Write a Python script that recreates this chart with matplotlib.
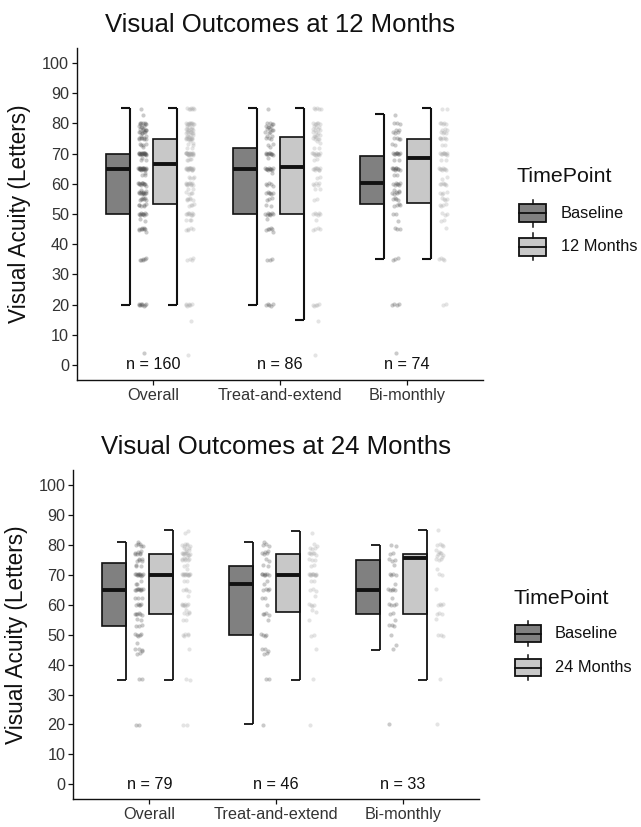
import numpy as np
import matplotlib
matplotlib.use("Agg")
import matplotlib.pyplot as plt
from matplotlib.patches import Rectangle
from matplotlib.lines import Line2D

plt.rcParams['font.family'] = ['Liberation Sans', 'DejaVu Sans']

# ---------------- data ----------------
categories = ["Overall", "Treat-and-extend", "Bi-monthly"]
titles = ["Visual Outcomes at 12 Months", "Visual Outcomes at 24 Months"]
legend_labels_12 = ["Baseline", "12 Months"]
legend_labels_24 = ["Baseline", "24 Months"]
n_12 = [160, 86, 74]
n_24 = [79, 46, 33]
y_ticks = [0, 10, 20, 30, 40, 50, 60, 70, 80, 90, 100]

# box statistics, one entry per category (Overall, Treat-and-extend, Bi-monthly)
base12_lo = [20, 20, 35]
base12_q1 = [50, 50, 53.3]
base12_med = [65, 65, 60.2]
base12_q3 = [70, 71.8, 69.3]
base12_hi = [85, 85, 83]

m12_lo = [20, 15, 35]
m12_q1 = [53.3, 50, 53.6]
m12_med = [66.6, 65.6, 68.5]
m12_q3 = [74.9, 75.6, 74.9]
m12_hi = [85, 85, 85]

base24_lo = [35, 20, 45]
base24_q1 = [53, 50, 57]
base24_med = [65, 67, 65]
base24_q3 = [74, 73, 75]
base24_hi = [81, 81, 80]

m24_lo = [35, 35, 35]
m24_q1 = [57, 57.5, 57]
m24_med = [70, 70, 75.5]
m24_q3 = [77, 77, 77]
m24_hi = [85, 84.5, 85]

# individual observations (value, count)
te_base12_vals = [85, 80, 79, 78, 77, 76, 75, 73, 72, 70, 69, 65, 64, 60, 59, 57, 55, 53, 50, 48, 45, 44, 35, 20]
te_base12_cnts = [1, 4, 4, 4, 3, 2, 3, 2, 1, 10, 1, 11, 1, 4, 1, 6, 3, 2, 8, 1, 5, 1, 3, 5]
te_m12_vals = [85, 80, 79, 78, 77, 76, 75, 74, 72, 70, 68, 65, 62, 60, 58, 55, 50, 48, 45, 20, 15, 3]
te_m12_cnts = [5, 6, 3, 4, 3, 4, 5, 2, 2, 10, 2, 10, 2, 5, 2, 2, 6, 1, 4, 5, 1, 1]
bi_base12_vals = [83, 80, 78, 77, 75, 73, 70, 68, 65, 63, 60, 58, 57, 55, 53, 50, 48, 45, 35, 20, 4]
bi_base12_cnts = [1, 3, 2, 3, 4, 2, 9, 2, 10, 2, 7, 2, 5, 4, 4, 2, 1, 3, 3, 4, 1]
bi_m12_vals = [85, 80, 78, 77, 75, 73, 70, 68, 65, 62, 60, 57, 55, 53, 50, 48, 45, 35, 20]
bi_m12_cnts = [2, 5, 3, 4, 6, 2, 10, 2, 8, 2, 6, 4, 4, 4, 3, 2, 1, 4, 2]

te_base24_vals = [81, 80, 78, 77, 75, 73, 70, 68, 67, 65, 62, 60, 57, 55, 50, 45, 44, 35, 20]
te_base24_cnts = [1, 3, 2, 3, 2, 2, 7, 1, 1, 4, 2, 1, 4, 1, 4, 3, 2, 2, 1]
te_m24_vals = [84, 80, 79, 77, 75, 73, 70, 68, 65, 63, 60, 58, 55, 50, 45, 35, 20]
te_m24_cnts = [1, 2, 3, 6, 3, 2, 11, 2, 3, 1, 4, 2, 1, 2, 1, 1, 1]
bi_base24_vals = [80, 77, 75, 73, 70, 67, 65, 62, 60, 57, 55, 53, 50, 47, 45, 20]
bi_base24_cnts = [2, 2, 3, 1, 4, 1, 5, 1, 4, 2, 1, 3, 1, 1, 1, 1]
bi_m24_vals = [85, 80, 78, 77, 76, 75, 72, 70, 65, 60, 57, 55, 50, 35, 20]
bi_m24_cnts = [1, 4, 2, 4, 2, 3, 1, 2, 1, 4, 3, 1, 3, 1, 1]

# ---------------- styling ----------------
BASE_FILL = "#808080"
FU_FILL = "#c8c8c8"
BASE_PT = "#505050"
FU_PT = "#a8a8a8"
EDGE = "#111111"
TXT = "#333333"
W = 641
H = 827

fig = plt.figure(figsize=(6.41, 8.27), dpi=100)


def expand(vals, cnts):
    return np.repeat(np.array(vals, dtype=float), cnts)


def jitter(n, amp, k):
    i = np.arange(n)
    return ((i * k + 0.37) % 1.0 - 0.5) * 2 * amp


def draw_panel(ax, title, groups, n_labels):
    xpos = np.arange(1, len(categories) + 1)
    bw = 0.188
    for g, (lo, q1, med, q3, hi, data, fill, ptc, dodge, wlw) in enumerate(groups):
        right = xpos + dodge
        ax.bar(right, np.array(q3) - np.array(q1), bottom=q1, width=-bw, align='edge',
               color=fill, edgecolor=EDGE, linewidth=1.2, zorder=2)
        ax.hlines(med, right - bw, right, color=EDGE, linewidth=2.8, zorder=3)
        ax.vlines(right, lo, hi, color=EDGE, linewidth=wlw, zorder=3)
        ax.hlines(lo, right - 0.07, right, color=EDGE, linewidth=wlw, zorder=3)
        ax.hlines(hi, right - 0.07, right, color=EDGE, linewidth=wlw, zorder=3)
        for ci, vals in enumerate(data):
            n = len(vals)
            xs = right[ci] + 0.10 + jitter(n, 0.032, 0.6180339887)
            ys = vals + jitter(n, 0.35, 0.7548776662)
            ax.scatter(xs, ys, s=9, color=ptc, alpha=0.3, linewidths=0, zorder=4)
    for ci, nl in enumerate(n_labels):
        ax.text(xpos[ci], 0, f"n = {nl}", ha='center', va='center', fontsize=11.7, color="#111111")
    ax.set_xlim(0.4, 3.6)
    ax.set_ylim(-5, 105)
    ax.set_yticks(y_ticks)
    ax.set_xticks(xpos)
    ax.set_xticklabels(categories)
    ax.tick_params(axis='both', labelsize=11.7, labelcolor=TXT, color=EDGE, length=3.5, width=0.9, pad=2.2)
    for s in ['top', 'right']:
        ax.spines[s].set_visible(False)
    for s in ['left', 'bottom']:
        ax.spines[s].set_linewidth(1.0)
        ax.spines[s].set_color(EDGE)
    ax.set_ylabel("Visual Acuity (Letters)", fontsize=16.3, color="#111111")
    ax.set_title(title, fontsize=18.5, pad=11.3, color="#111111")


def draw_legend(title_xy, key_x0, key_x1, centers, key_h, label_x, labels):
    def fx(x):
        return x / W

    def fy(y):
        return 1 - y / H

    fig.text(fx(title_xy[0]), fy(title_xy[1]), "TimePoint", fontsize=15.4, ha='left', va='center', color="#111111")
    for c, fill, lab in zip(centers, [BASE_FILL, FU_FILL], labels):
        fig.add_artist(Rectangle((fx(key_x0), fy(c + key_h / 2)), fx(key_x1) - fx(key_x0), key_h / H,
                                 transform=fig.transFigure, facecolor=fill, edgecolor=EDGE, linewidth=1.3))
        fig.add_artist(Line2D([fx(key_x0), fx(key_x1)], [fy(c), fy(c)], transform=fig.transFigure,
                              color=EDGE, linewidth=1.3))
        xm = fx((key_x0 + key_x1) / 2)
        fig.add_artist(Line2D([xm, xm], [fy(c - key_h / 2), fy(c - key_h / 2 - 4.5)], transform=fig.transFigure,
                              color=EDGE, linewidth=1.1))
        fig.add_artist(Line2D([xm, xm], [fy(c + key_h / 2), fy(c + key_h / 2 + 4.5)], transform=fig.transFigure,
                              color=EDGE, linewidth=1.1))
        fig.text(fx(label_x), fy(c), lab, fontsize=11.8, ha='left', va='center', color="#111111")


# top panel
ax1 = fig.add_axes([77 / W, 1 - 380 / H, (483 - 77) / W, (380 - 48) / H])
te_b12 = expand(te_base12_vals, te_base12_cnts)
bi_b12 = expand(bi_base12_vals, bi_base12_cnts)
te_f12 = expand(te_m12_vals, te_m12_cnts)
bi_f12 = expand(bi_m12_vals, bi_m12_cnts)
draw_panel(ax1, titles[0], [
    (base12_lo, base12_q1, base12_med, base12_q3, base12_hi,
     [np.concatenate([te_b12, bi_b12]), te_b12, bi_b12], BASE_FILL, BASE_PT, 0.0 - 0.188 + 0.004, 1.5),
    (m12_lo, m12_q1, m12_med, m12_q3, m12_hi,
     [np.concatenate([te_f12, bi_f12]), te_f12, bi_f12], FU_FILL, FU_PT, 0.188, 1.5),
], n_12)
ax1.yaxis.set_label_coords(-0.113, 0.5)

# bottom panel
ax2 = fig.add_axes([73.3 / W, 1 - 799.3 / H, (479 - 73.3) / W, (799.3 - 470) / H])
te_b24 = expand(te_base24_vals, te_base24_cnts)
bi_b24 = expand(bi_base24_vals, bi_base24_cnts)
te_f24 = expand(te_m24_vals, te_m24_cnts)
bi_f24 = expand(bi_m24_vals, bi_m24_cnts)
draw_panel(ax2, titles[1], [
    (base24_lo, base24_q1, base24_med, base24_q3, base24_hi,
     [np.concatenate([te_b24, bi_b24]), te_b24, bi_b24], BASE_FILL, BASE_PT, 0.0 - 0.188 + 0.004, 1.3),
    (m24_lo, m24_q1, m24_med, m24_q3, m24_hi,
     [np.concatenate([te_f24, bi_f24]), te_f24, bi_f24], FU_FILL, FU_PT, 0.188, 1.3),
], n_24)
ax2.yaxis.set_label_coords(-0.112, 0.5)

draw_legend((516.7, 176.7), 519.3, 546, [213.3, 246.7], 18.3, 560.7, legend_labels_12)
draw_legend((514, 598.3), 515, 540.5, [633.5, 667.5], 16.7, 555, legend_labels_24)

fig.savefig("out.png", dpi=100)
